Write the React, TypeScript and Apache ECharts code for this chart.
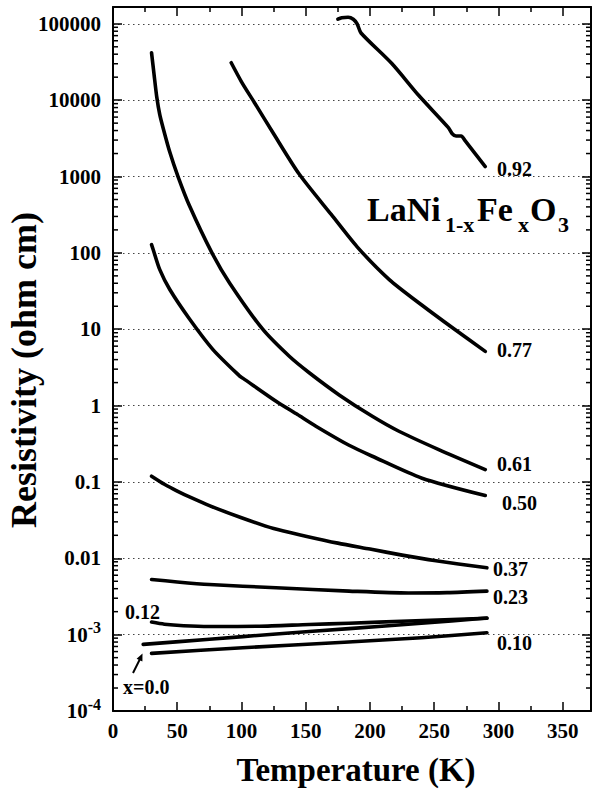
import React, { useEffect, useRef } from 'react';
import * as echarts from 'echarts';

const FONT = '"Liberation Serif", "Times New Roman", serif';

// Temperature (K) and resistivity (ohm cm)
const T_092 = [175, 178, 183, 187, 190, 193, 217, 238, 261, 264, 267, 271, 274, 289.7];
const R_092 = [114800, 120200, 121600, 114800, 100000, 75900, 30200, 11500, 4370, 3630, 3390, 3390, 2950, 1350];

const T_077 = [92, 100, 110, 125, 145, 170, 190, 215, 240, 265, 289.7];
const R_077 = [30900, 17400, 9330, 3630, 1070, 316, 120, 44.7, 20.9, 10.2, 5.13];

const T_061 = [30, 32, 34, 36.4, 39, 44, 50.6, 59.7, 77, 90.7, 116.5, 137.2, 152.7, 176, 201.8, 222.5, 253.5, 289.7];
const R_061 = [41700, 21400, 11200, 6460, 4320, 2140, 1000, 407, 100, 40.4, 10, 4.42, 2.69, 1.38, 0.724, 0.461, 0.265, 0.145];

const T_050 = [30, 31.3, 36.4, 44.2, 59.7, 77.8, 98.4, 101, 126.9, 143.6, 157.9, 183.7, 201.8, 240.5, 289.7];
const R_050 = [128, 110, 60.3, 33.1, 13.5, 5.41, 2.45, 2.29, 1.14, 0.762, 0.537, 0.302, 0.217, 0.112, 0.0664];

const T_037 = [30, 40, 50, 60, 75, 100, 125, 150, 175, 200, 225, 250, 291];
const R_037 = [0.119, 0.0933, 0.0759, 0.0631, 0.049, 0.0339, 0.0245, 0.0195, 0.0158, 0.0132, 0.011, 0.00933, 0.0075];

const T_023 = [30, 50, 75, 127, 183.7, 230, 260, 291];
const R_023 = [0.00528, 0.0049, 0.00454, 0.00411, 0.00372, 0.00351, 0.00355, 0.00372];

const T_012 = [30, 40, 55, 75, 114, 152.7, 183.7, 230, 291];
const R_012 = [0.00146, 0.00137, 0.00131, 0.00128, 0.00129, 0.00136, 0.00141, 0.00151, 0.00164];

const T_000 = [23.5, 75.2, 127, 183.7, 240, 291];
const R_000 = [0.000745, 0.000871, 0.00102, 0.0012, 0.00141, 0.00165];

const T_010 = [30, 101, 180, 240, 291];
const R_010 = [0.000568, 0.000673, 0.000794, 0.000912, 0.00106];

const CURVES = [
  { name: '0.92', t: T_092, r: R_092 },
  { name: '0.77', t: T_077, r: R_077 },
  { name: '0.61', t: T_061, r: R_061 },
  { name: '0.50', t: T_050, r: R_050 },
  { name: '0.37', t: T_037, r: R_037 },
  { name: '0.23', t: T_023, r: R_023 },
  { name: '0.12', t: T_012, r: R_012 },
  { name: '0.0', t: T_000, r: R_000 },
  { name: '0.10', t: T_010, r: R_010 },
];

const X_MIN = 0;
const X_MAX = 372;
const X_INTERVAL = 50;
const Y_MIN = 1e-4;
const Y_MAX = 1.66e5;
const Y_EXPONENTS = [5, 4, 3, 2, 1, 0, -1, -2, -3, -4];
const Y_LABELS = ['100000', '10000', '1000', '100', '10', '1', '0.1', '0.01', '{n|10}{s|-3}', '{n|10}{s|-4}'];

const minorTickValues: number[] = [];
for (let n = -4; n <= 5; n++) {
  for (let k = 2; k <= 9; k++) {
    const v = k * Math.pow(10, n);
    if (v < Y_MAX) minorTickValues.push(v);
  }
}

const txt = (text: string, x: number, y: number, size: number, align = 'left') => ({
  type: 'text',
  x,
  y,
  silent: true,
  z: 10,
  style: {
    text,
    fill: '#000',
    font: `bold ${size}px ${FONT}`,
    textAlign: align,
    textVerticalAlign: 'middle',
  },
});

export default function App() {
  const ref = useRef<HTMLDivElement>(null);

  useEffect(() => {
    document.body.style.margin = '0';
    const chart = echarts.init(ref.current!, undefined, { renderer: 'svg' });

    const axisLineStyle = { color: '#000', width: 2 };
    const tickStyle = { color: '#000', width: 1.5 };

    const lineSeries = CURVES.map((c) => ({
      type: 'line',
      name: c.name,
      data: c.t.map((t, i) => [t, c.r[i]]),
      symbol: 'none',
      showSymbol: false,
      smooth: 0.25,
      silent: true,
      z: 3,
      lineStyle: { color: '#000', width: 3.6, cap: 'round', join: 'round' },
    }));

    const minorTickSeries = {
      type: 'custom',
      silent: true,
      clip: false,
      z: 6,
      data: minorTickValues.map((v) => [X_MIN, v]),
      encode: { x: 0, y: 1 },
      renderItem: (_params: any, api: any) => {
        const v = api.value(1);
        const l = api.coord([X_MIN, v]);
        const r = api.coord([X_MAX, v]);
        return {
          type: 'group',
          children: [
            { type: 'line', shape: { x1: l[0], y1: l[1], x2: l[0] + 5, y2: l[1] }, style: { stroke: '#000', lineWidth: 1.5 } },
            { type: 'line', shape: { x1: r[0] - 5, y1: r[1], x2: r[0], y2: r[1] }, style: { stroke: '#000', lineWidth: 1.5 } },
          ],
        };
      },
    };

    const option: any = {
      animation: false,
      backgroundColor: '#fff',
      grid: { left: 113, right: 1, top: 7, bottom: 82, containLabel: false },
      xAxis: [
        {
          type: 'value',
          position: 'bottom',
          min: X_MIN,
          max: X_MAX,
          interval: X_INTERVAL,
          axisLine: { show: true, onZero: false, lineStyle: axisLineStyle },
          axisTick: { show: true, inside: true, length: 9, lineStyle: tickStyle },
          minorTick: { show: true, splitNumber: 2, length: 5, lineStyle: tickStyle },
          splitLine: { show: false },
          axisLabel: {
            show: true,
            margin: 9,
            color: '#000',
            fontFamily: FONT,
            fontWeight: 'bold',
            fontSize: 21,
            formatter: (v: number) => (v % X_INTERVAL === 0 ? String(v) : ''),
          },
        },
        {
          type: 'value',
          position: 'top',
          min: X_MIN,
          max: X_MAX,
          interval: X_INTERVAL,
          axisLine: { show: true, onZero: false, lineStyle: axisLineStyle },
          axisTick: { show: true, inside: true, length: 9, lineStyle: tickStyle },
          minorTick: { show: true, splitNumber: 2, length: 5, lineStyle: tickStyle },
          splitLine: { show: false },
          axisLabel: { show: false },
        },
      ],
      yAxis: [
        {
          type: 'log',
          logBase: 10,
          position: 'left',
          min: Y_MIN,
          max: Y_MAX,
          axisLine: { show: true, onZero: false, lineStyle: axisLineStyle },
          axisTick: { show: true, inside: true, length: 9, lineStyle: tickStyle },
          splitLine: { show: true, lineStyle: { color: '#444', width: 1, type: [1.5, 3.5] } },
          axisLabel: {
            show: true,
            margin: 12,
            color: '#000',
            fontFamily: FONT,
            fontWeight: 'bold',
            fontSize: 21,
            formatter: (v: number) => {
              const e = Math.log10(v);
              const r = Math.round(e);
              if (Math.abs(e - r) > 1e-6) return '';
              const i = Y_EXPONENTS.indexOf(r);
              return i >= 0 ? Y_LABELS[i] : '';
            },
            rich: {
              n: { fontFamily: FONT, fontWeight: 'bold', fontSize: 21, lineHeight: 30, color: '#000' },
              s: { fontFamily: FONT, fontWeight: 'bold', fontSize: 16, lineHeight: 15, verticalAlign: 'top', color: '#000' },
            },
          },
        },
        {
          type: 'log',
          logBase: 10,
          position: 'right',
          min: Y_MIN,
          max: Y_MAX,
          axisLine: { show: true, onZero: false, lineStyle: axisLineStyle },
          axisTick: { show: true, inside: true, length: 9, lineStyle: tickStyle },
          splitLine: { show: false },
          axisLabel: { show: false },
        },
      ],
      series: [...lineSeries, minorTickSeries],
      graphic: [
        // axis titles
        txt('Temperature (K)', 356, 770, 33, 'center'),
        {
          type: 'text',
          x: 24,
          y: 370,
          rotation: Math.PI / 2,
          silent: true,
          style: {
            text: 'Resistivity (ohm cm)',
            fill: '#000',
            font: `bold 36px ${FONT}`,
            textAlign: 'center',
            textVerticalAlign: 'middle',
          },
        },
        // formula
        txt('LaNi', 367, 209, 34),
        txt('1-x', 445, 224, 22),
        txt('Fe', 477, 209, 34),
        txt('x', 518, 224, 22),
        txt('O', 530, 209, 34),
        txt('3', 558, 224, 22),
        // curve labels
        txt('0.92', 497, 169, 20),
        txt('0.77', 497, 350, 20),
        txt('0.61', 497, 464, 20),
        txt('0.50', 502, 503, 20),
        txt('0.37', 493, 569, 20),
        txt('0.23', 493, 597, 20),
        txt('0.10', 497, 643, 20),
        txt('0.12', 125, 612, 20),
        txt('x=0.0', 123, 687, 20),
        // arrow
        {
          type: 'line',
          silent: true,
          shape: { x1: 133, y1: 673, x2: 140.5, y2: 658 },
          style: { stroke: '#000', lineWidth: 2 },
        },
        {
          type: 'polygon',
          silent: true,
          shape: { points: [[142.5, 653.5], [142.4, 661.5], [136.6, 658.8]] },
          style: { fill: '#000' },
        },
      ],
    };

    chart.setOption(option);
    return () => chart.dispose();
  }, []);

  return <div ref={ref} style={{ width: 594, height: 793 }} />;
}
